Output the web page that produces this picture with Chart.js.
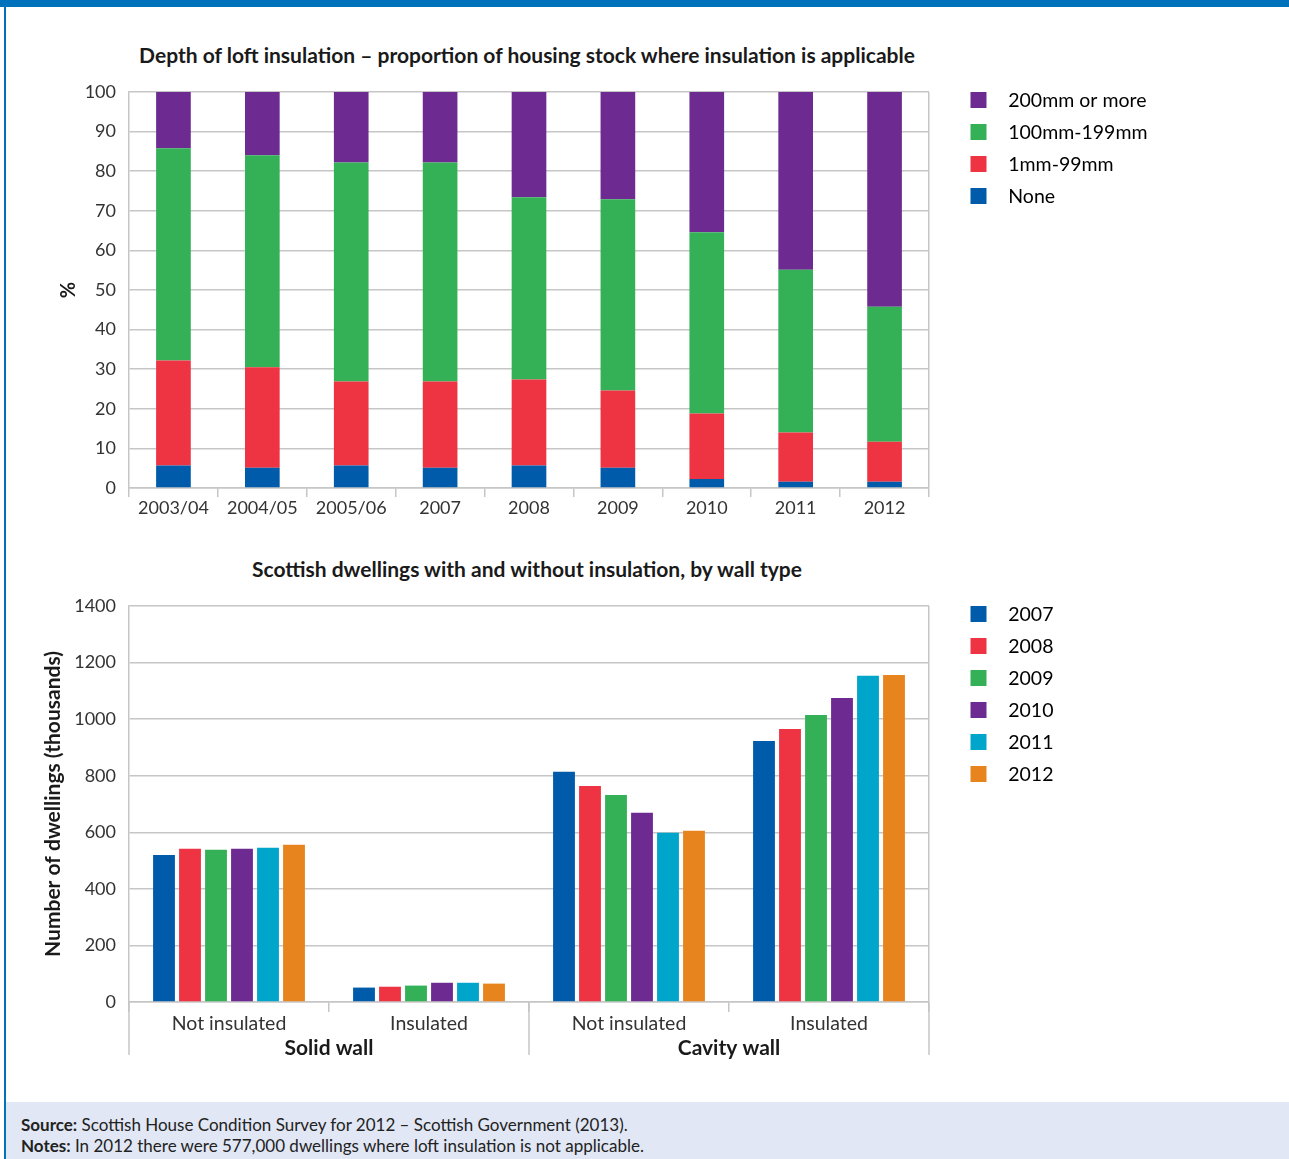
<!DOCTYPE html>
<html lang="en">
<head>
    <meta charset="UTF-8">
    <title>Loft and wall insulation in Scottish dwellings</title>
    <script src="https://cdn.jsdelivr.net/npm/chart.js"></script>
    <style>
        body { margin: 0; background: #fff; font-family: Lato, sans-serif; color: #1a1a1a; }
        .page { position: relative; width: 1289px; height: 1159px; overflow: hidden; }
        .topbar { position: absolute; left: 0; top: 0; width: 1289px; height: 7px; background: #0071bb; }
        .sidebar { position: absolute; left: 4px; top: 0; width: 2px; height: 1159px; background: #0071bb; }
        .chart-title { position: absolute; left: 0; width: 1054px; text-align: center; font-weight: bold; font-size: 21px; line-height: 24px; }
        canvas { position: absolute; left: 0; }
        .notes { position: absolute; left: 6px; top: 1102px; width: 1268px; height: 57px; padding: 0 0 0 15px;
                 background: #e1e7f4; font-size: 17px; line-height: 21px; color: #222; }
        .notes div:first-child { margin-top: 12px; }
    </style>
</head>
<body>
<div class="page">
    <div class="topbar"></div>
    <div class="sidebar"></div>

    <div class="chart-title" style="top:43px">Depth of loft insulation – proportion of housing stock where insulation is applicable</div>
    <canvas id="loftChart" width="1289" height="458" style="top:70px"></canvas>

    <div class="chart-title" style="top:557px">Scottish dwellings with and without insulation, by wall type</div>
    <canvas id="wallChart" width="1289" height="481" style="top:584px"></canvas>

    <div class="notes">
        <div><b>Source:</b> Scottish House Condition Survey for 2012 – Scottish Government (2013).</div>
        <div><b>Notes:</b> In 2012 there were 577,000 dwellings where loft insulation is not applicable.</div>
    </div>
</div>

<script>
    // loft insulation depth, % of stock where applicable
    const loftYears = ['2003/04', '2004/05', '2005/06', '2007', '2008', '2009', '2010', '2011', '2012'];
    const loftNone = [5.7, 5.1, 5.7, 5.1, 5.7, 5.1, 2.3, 1.6, 1.6];
    const loft1to99 = [26.5, 25.4, 21.2, 21.8, 21.7, 19.5, 16.5, 12.4, 10.1];
    const loft100to199 = [53.6, 53.5, 55.3, 55.3, 46.0, 48.3, 45.8, 41.1, 34.1];
    const loft200plus = [14.2, 16.0, 17.8, 17.8, 26.6, 27.1, 35.4, 44.9, 54.2];

    // dwellings by wall type (thousands)
    const wallTypes = ['Solid wall', 'Cavity wall'];
    const wallStatus = ['Not insulated', 'Insulated', 'Not insulated', 'Insulated'];
    const surveyYears = ['2007', '2008', '2009', '2010', '2011', '2012'];
    const dwellings2007 = [520, 51, 814, 923];
    const dwellings2008 = [542, 54, 764, 965];
    const dwellings2009 = [538, 58, 732, 1015];
    const dwellings2010 = [542, 68, 669, 1075];
    const dwellings2011 = [545, 68, 598, 1153];
    const dwellings2012 = [556, 65, 605, 1156];

    const GRID = '#c6c6c6';
    const TEXT = '#333';

    Chart.defaults.font.family = 'Lato, sans-serif';
    Chart.defaults.font.size = 18;
    Chart.defaults.color = TEXT;

    // legend swatch: 16px square, with room around it so the text lands where it should
    function swatch(color) {
        const c = document.createElement('canvas');
        c.width = 57;
        c.height = 16;
        const g = c.getContext('2d');
        g.fillStyle = color;
        g.fillRect(29, 0, 16, 16);
        return c;
    }

    const legendLabels = {
        usePointStyle: true,
        pointStyleWidth: 57,
        boxHeight: 16,
        padding: 12.5,
        color: TEXT,
        font: { size: 19.5 },
        generateLabels(chart) {
            return chart.data.datasets.map((ds, i) => ({
                text: ds.label,
                fillStyle: ds.backgroundColor,
                strokeStyle: ds.backgroundColor,
                lineWidth: 0,
                pointStyle: swatch(ds.backgroundColor),
                datasetIndex: i,
                hidden: !chart.isDatasetVisible(i)
            }));
        }
    };

    // keep the legend column a fixed width so both plots end at the same x
    const fixLegendWidth = {
        id: 'fixLegendWidth',
        beforeLayout(chart, args, opts) {
            const lg = chart.legend;
            if (lg && !lg._fixed) {
                const fit = lg.fit.bind(lg);
                lg.fit = function () { fit(); this.width = opts.width; };
                lg._fixed = true;
            }
        }
    };

    // long dividers under the x axis between wall types
    const groupDividers = {
        id: 'groupDividers',
        afterDraw(chart, args, opts) {
            const g = chart.scales.x2;
            if (!g) return;
            const { ctx, chartArea } = chart;
            const n = g.ticks.length;
            const step = (chartArea.right - chartArea.left) / n;
            ctx.save();
            ctx.strokeStyle = opts.color;
            ctx.lineWidth = opts.width;
            for (let i = 0; i <= n; i++) {
                const px = Math.round(chartArea.left + i * step);
                ctx.beginPath();
                ctx.moveTo(px, chartArea.bottom);
                ctx.lineTo(px, chartArea.bottom + opts.length);
                ctx.stroke();
            }
            ctx.restore();
        }
    };

    function yAxis(max, step, title, titleSize, titlePad) {
        return {
            min: 0,
            max: max,
            stacked: true,
            ticks: { stepSize: step, padding: 13, color: TEXT, font: { size: 18 }, callback: v => String(v) },
            grid: { color: GRID, lineWidth: 1.5, drawTicks: false },
            border: { color: GRID, width: 1.5 },
            title: { display: true, text: title, color: '#1a1a1a', font: { size: titleSize, weight: 'bold' }, padding: { top: titlePad, bottom: 0 } },
            afterFit(s) { s.width = 129; s.paddingTop = 22; }
        };
    }

    function xAxis(height, tickLength, fontSize) {
        return {
            ticks: { padding: 0, color: TEXT, font: { size: fontSize }, maxRotation: 0, autoSkip: false },
            grid: {
                offset: true,
                tickLength: tickLength,
                lineWidth: 1.5,
                // only the right-hand edge runs up through the plot
                color: c => c.type === 'tick' ? 'rgba(0,0,0,0)' : GRID,
                tickColor: GRID
            },
            border: { color: GRID, width: 1.5 },
            afterFit(s) { s.height = height; }
        };
    }

    new Chart(document.getElementById('loftChart'), {
        type: 'bar',
        data: {
            labels: loftYears,
            datasets: [
                { label: 'None', data: loftNone, backgroundColor: '#005baa' },
                { label: '1mm-99mm', data: loft1to99, backgroundColor: '#ee3342' },
                { label: '100mm-199mm', data: loft100to199, backgroundColor: '#34b157' },
                { label: '200mm or more', data: loft200plus, backgroundColor: '#6d2b91' }
            ]
        },
        options: {
            responsive: false,
            animation: false,
            layout: { padding: { top: 8, left: 0, right: 0, bottom: 0 } },
            datasets: { bar: { categoryPercentage: 1, barPercentage: 0.39 } },
            scales: {
                x: Object.assign(xAxis(40, 9, 18), { stacked: true }),
                y: yAxis(100, 10, '%', 20, 57)
            },
            plugins: {
                legend: { position: 'right', align: 'start', reverse: true, labels: legendLabels },
                tooltip: { enabled: false },
                fixLegendWidth: { width: 360 }
            }
        },
        plugins: [fixLegendWidth]
    });

    new Chart(document.getElementById('wallChart'), {
        type: 'bar',
        data: {
            labels: wallStatus,
            datasets: [
                { label: surveyYears[0], data: dwellings2007, backgroundColor: '#005baa' },
                { label: surveyYears[1], data: dwellings2008, backgroundColor: '#ee3342' },
                { label: surveyYears[2], data: dwellings2009, backgroundColor: '#34b157' },
                { label: surveyYears[3], data: dwellings2010, backgroundColor: '#6d2b91' },
                { label: surveyYears[4], data: dwellings2011, backgroundColor: '#00a5cb' },
                { label: surveyYears[5], data: dwellings2012, backgroundColor: '#e8841e' }
            ]
        },
        options: {
            responsive: false,
            animation: false,
            layout: { padding: { top: 8, left: 0, right: 0, bottom: 0 } },
            datasets: { bar: { categoryPercentage: 0.78, barPercentage: 0.84 } },
            scales: {
                x: xAxis(33, 10, 19.5),
                x2: {
                    type: 'category',
                    position: 'bottom',
                    weight: 1,
                    labels: wallTypes,
                    offset: true,
                    ticks: { padding: 1, color: '#1a1a1a', font: { size: 21, weight: 'bold' } },
                    grid: { display: false, drawTicks: false },
                    border: { display: false },
                    afterFit(s) { s.height = 30; }
                },
                y: Object.assign(yAxis(1400, 200, 'Number of dwellings (thousands)', 21, 41), { stacked: false })
            },
            plugins: {
                legend: { position: 'right', align: 'start', labels: legendLabels },
                tooltip: { enabled: false },
                fixLegendWidth: { width: 360 },
                groupDividers: { color: GRID, width: 1.5, length: 53 }
            }
        },
        plugins: [fixLegendWidth, groupDividers]
    });
</script>
</body>
</html>
